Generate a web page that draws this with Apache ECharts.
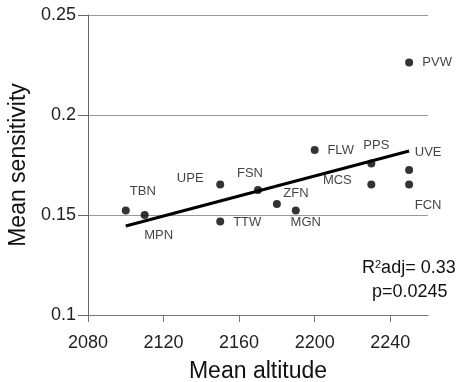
<!DOCTYPE html>
<html>
<head>
<meta charset="utf-8">
<script src="https://cdn.jsdelivr.net/npm/echarts@6/dist/echarts.min.js"></script>
<style>
  html, body { margin: 0; padding: 0; background: #fff; }
  #chart { width: 467px; height: 382px; }
</style>
</head>
<body>
<div id="chart"></div>
<script>
// sites
var siteNames = ['TBN', 'MPN', 'UPE', 'TTW', 'FSN', 'ZFN', 'MGN', 'FLW', 'PPS', 'MCS', 'PVW', 'UVE', 'FCN'];
var altitude = [2100, 2110, 2150, 2150, 2170, 2180, 2190, 2200, 2230, 2230, 2250, 2250, 2250];
var sensitivity = [0.1522, 0.150, 0.1653, 0.1467, 0.1625, 0.1555, 0.1522, 0.1825, 0.1758, 0.1653, 0.2262, 0.1725, 0.1653];

// regression line ends
var fitLine = [[2100, 0.1445], [2250, 0.182]];

var xTicks = [2080, 2120, 2160, 2200, 2240];
var yTicks = [0.1, 0.15, 0.2, 0.25];

// where each site label sits relative to its dot (px)
var labelOffsets = {
    TBN: [17, -19], MPN: [14, 20], UPE: [-30, -6], TTW: [27, 1],
    FSN: [-8, -17], ZFN: [19, -11], MGN: [10, 12], FLW: [26, 0],
    PPS: [5, -18], MCS: [-34, -4], PVW: [28, 0], UVE: [19, -18], FCN: [19, 21]
};

var font = 'Liberation Sans, Arial, sans-serif';

var points = siteNames.map(function (n, i) {
    return {
        name: n,
        value: [altitude[i], sensitivity[i]],
        label: { offset: labelOffsets[n] }
    };
});

var chart = echarts.init(document.getElementById('chart'));
chart.setOption({
    animation: false,
    grid: { left: 88, right: 39, top: 15, bottom: 67, containLabel: false, outerBoundsMode: 'none' },
    xAxis: {
        type: 'value',
        min: xTicks[0],
        max: 2260,
        interval: 40,
        name: 'Mean altitude',
        nameLocation: 'middle',
        nameGap: 45,
        nameTextStyle: { fontFamily: font, fontSize: 23, color: '#111' },
        axisLine: { lineStyle: { color: '#777', width: 1 } },
        axisTick: { show: true, length: 7, lineStyle: { color: '#777' } },
        axisLabel: {
            fontFamily: font, fontSize: 18, color: '#222', margin: 19,
            showMaxLabel: false,
            formatter: function (v) { return xTicks.indexOf(v) >= 0 ? String(v) : ''; }
        },
        splitLine: { show: false }
    },
    yAxis: {
        type: 'value',
        min: yTicks[0],
        max: yTicks[yTicks.length - 1],
        interval: 0.05,
        name: 'Mean sensitivity',
        nameLocation: 'middle',
        nameGap: 53,
        nameTextStyle: { fontFamily: font, fontSize: 23, color: '#111' },
        axisLine: { show: true, lineStyle: { color: '#666', width: 1 } },
        axisTick: { show: true, length: 10, lineStyle: { color: '#666' } },
        axisLabel: {
            fontFamily: font, fontSize: 18, color: '#222', margin: 12,
            formatter: function (v) { return String(+v.toFixed(2)); }
        },
        splitLine: { show: true, lineStyle: { color: '#999', width: 1 } }
    },
    series: [
        {
            type: 'line',
            data: fitLine,
            symbol: 'none',
            lineStyle: { color: '#000', width: 3 },
            z: 3
        },
        {
            type: 'scatter',
            data: points,
            symbolSize: 8,
            itemStyle: { color: '#000' },
            label: {
                show: true,
                position: 'inside',
                formatter: '{b}',
                fontFamily: font,
                fontSize: 13,
                color: '#111'
            },
            z: 4
        }
    ],
    graphic: [
        {
            type: 'text',
            left: 362,
            top: 259,
            style: {
                text: 'R{sup|2}adj= 0.33',
                font: '18px ' + font,
                fill: '#111',
                rich: { sup: { fontSize: 11, verticalAlign: 'top', padding: [0, 0, 8, 0], fontFamily: font } }
            }
        },
        {
            type: 'text',
            left: 372,
            top: 283,
            style: { text: 'p=0.0245', font: '18px ' + font, fill: '#111' }
        }
    ]
});
</script>
</body>
</html>
